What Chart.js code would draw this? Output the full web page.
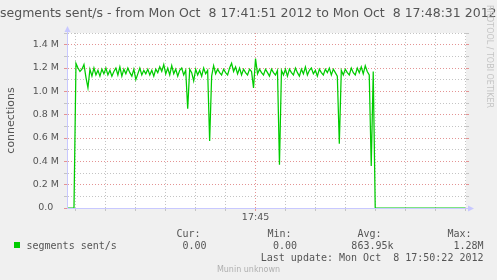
<!DOCTYPE html>
<html>
<head>
<meta charset="utf-8">
<script src="https://cdn.jsdelivr.net/npm/chart.js@4/dist/chart.umd.min.js"></script>
<style>
  html,body{margin:0;padding:0;background:#f0f0f0;}
  #wrap{width:497px;height:280px;}
</style>
</head>
<body>
<div id="wrap"><canvas id="chart" width="497" height="280"></canvas></div>
<script>
/* Munin graph: tcp segments sent/s, 17:41:51 -> 17:48:31 (400 s window) */

const TITLE = 'segments sent/s - from Mon Oct  8 17:41:51 2012 to Mon Oct  8 17:48:31 2012';
const Y_TITLE = 'connections';
const SERIES_NAME = 'segments sent/s';

// RRD samples: one value every STEP seconds, first one SAMPLE_START s after 17:41:51. Values in millions.
const SAMPLE_START = 1, STEP = 2;
const SENT_M = [
  0, 0, 0, 0, 1.24, 1.20, 1.17, 1.19, 1.23, 1.12,
  1.03, 1.19, 1.13, 1.20, 1.14, 1.18, 1.13, 1.19, 1.15, 1.20,
  1.14, 1.18, 1.13, 1.17, 1.20, 1.14, 1.21, 1.13, 1.19, 1.15,
  1.20, 1.16, 1.13, 1.19, 1.10, 1.15, 1.20, 1.14, 1.18, 1.15,
  1.19, 1.14, 1.18, 1.13, 1.19, 1.16, 1.21, 1.17, 1.23, 1.15,
  1.20, 1.14, 1.22, 1.15, 1.19, 1.13, 1.18, 1.20, 1.14, 1.18,
  0.85, 1.19, 1.16, 1.09, 1.19, 1.14, 1.18, 1.13, 1.20, 1.15,
  1.18, 0.575, 1.13, 1.22, 1.15, 1.19, 1.16, 1.14, 1.19, 1.16,
  1.14, 1.20, 1.24, 1.17, 1.21, 1.15, 1.20, 1.14, 1.19, 1.16,
  1.14, 1.19, 1.17, 1.03, 1.28, 1.15, 1.19, 1.16, 1.14, 1.19,
  1.16, 1.13, 1.19, 1.16, 1.14, 1.18, 0.37, 1.18, 1.14, 1.19,
  1.13, 1.19, 1.16, 1.14, 1.20, 1.16, 1.13, 1.19, 1.15, 1.21,
  1.14, 1.18, 1.20, 1.15, 1.18, 1.13, 1.19, 1.16, 1.14, 1.19,
  1.16, 1.20, 1.14, 1.19, 1.16, 1.13, 0.55, 1.18, 1.14, 1.19,
  1.16, 1.14, 1.20, 1.16, 1.14, 1.20, 1.16, 1.21, 1.15, 1.22,
  1.17, 1.14, 0.36, 1.17, 0, 0, 0, 0, 0, 0,
  0, 0, 0, 0, 0, 0, 0, 0, 0, 0,
  0, 0, 0, 0, 0, 0, 0, 0, 0, 0,
  0, 0, 0, 0, 0, 0, 0, 0, 0, 0,
  0, 0, 0, 0, 0, 0, 0, 0, 0, 0,
];

// x grid every 30 s (17:42:00 ... 17:48:30), only 17:45:00 is labelled / major
const X_TICKS = [9, 39, 69, 99, 129, 159, 189, 219, 249, 279, 309, 339, 369, 399];
const X_LABELS = {189:'17:45'};
const X_MAJOR = [189];

const LEGEND_HEAD = ['Cur:', 'Min:', 'Avg:', 'Max:'];
const LEGEND_VALS = ['0.00', '0.00', '863.95k', '1.28M'];
const LAST_UPDATE = 'Last update: Mon Oct  8 17:50:22 2012';
const FOOTER = 'Munin unknown';
const WATERMARK = 'RRDTOOL / TOBI OETIKER';

const LINE_COLOR = '#00cc00', AXIS_COLOR = '#c8c8ff';
const GRID_MINOR = '#c4c4c4', GRID_MAJOR = '#e49494';
const FONT_COLOR = '#555555';

// --- helpers ---------------------------------------------------------------
const tenths = v => Math.round(v*10);
const yGrid = c => { const k = tenths(c.tick.value); return k===0 ? 'rgba(0,0,0,0)' : (k%2===0 ? GRID_MAJOR : GRID_MINOR); };
const yTick = c => tenths(c.tick.value)%2===0 ? GRID_MAJOR : GRID_MINOR;
const xGrid = c => X_MAJOR.includes(c.tick.value) ? GRID_MAJOR : GRID_MINOR;

const points = SENT_M.map((v,i)=>({x: SAMPLE_START + i*STEP, y: v}));

// --- rrdtool-ish decorations: canvas, title, arrows, legend table -----------
const decor = {
  id:'decor',
  beforeDraw(c){
    const {ctx, chartArea:a} = c;
    ctx.save(); ctx.fillStyle = '#ffffff';
    ctx.fillRect(a.left, a.top, a.right-a.left, a.bottom-a.top);
    ctx.restore();
  },
  afterDraw(c){
    const {ctx, chartArea:a} = c;
    ctx.save();
    // axis arrows
    ctx.strokeStyle = AXIS_COLOR; ctx.fillStyle = AXIS_COLOR; ctx.lineWidth = 1;
    ctx.beginPath(); ctx.moveTo(a.left+0.5, a.top); ctx.lineTo(a.left+0.5, a.top-3); ctx.stroke();
    ctx.beginPath(); ctx.moveTo(a.left+0.5, a.top-7); ctx.lineTo(a.left-2.5, a.top-1); ctx.lineTo(a.left+3.5, a.top-1); ctx.fill();
    ctx.beginPath(); ctx.moveTo(a.right, a.bottom+0.5); ctx.lineTo(a.right+3, a.bottom+0.5); ctx.stroke();
    ctx.beginPath(); ctx.moveTo(a.right+8, a.bottom+0.5); ctx.lineTo(a.right+2, a.bottom-2.5); ctx.lineTo(a.right+2, a.bottom+3.5); ctx.fill();

    // title
    ctx.fillStyle = FONT_COLOR; ctx.textBaseline = 'middle';
    ctx.font = '12.5px "DejaVu Sans"'; ctx.textAlign = 'left';
    ctx.fillText(TITLE, 0, 14);

    // vertical watermark
    ctx.save();
    ctx.translate(489, 56.5); ctx.rotate(Math.PI/2);
    ctx.font = '8px "DejaVu Sans"'; ctx.fillStyle = '#c4c4c4'; ctx.textAlign = 'center';
    ctx.fillText(WATERMARK, 0, 0);
    ctx.restore();

    // legend table
    ctx.font = '10px "DejaVu Sans Mono"'; ctx.fillStyle = FONT_COLOR;
    const headX = [176.5, 267.5, 357.5, 447.5], valR = [206.5, 297, 393.5, 483.5];
    ctx.textAlign = 'left';
    LEGEND_HEAD.forEach((h,i)=> ctx.fillText(h, headX[i], 234.5));
    ctx.fillText(SERIES_NAME, 26.5, 246.5);
    ctx.textAlign = 'right';
    LEGEND_VALS.forEach((v,i)=> ctx.fillText(v, valR[i], 246.5));
    ctx.fillText(LAST_UPDATE, 483.5, 258);
    ctx.fillStyle = LINE_COLOR; ctx.fillRect(14, 242, 6, 6);

    ctx.font = '8px "DejaVu Sans"'; ctx.fillStyle = '#b0b0b0'; ctx.textAlign = 'center';
    ctx.fillText(FOOTER, 248.5, 269.5);
    ctx.restore();
  }
};

new Chart(document.getElementById('chart'), {
  type:'line',
  data:{datasets:[{
    label:SERIES_NAME, data:points, borderColor:LINE_COLOR, borderWidth:1.25,
    pointRadius:0, tension:0, fill:false,
  }]},
  options:{
    responsive:false, animation:false, events:[],
    layout:{padding:{top:33, left:0, right:0, bottom:0}},
    plugins:{legend:{display:false}, tooltip:{enabled:false}},
    scales:{
      x:{
        type:'linear', min:0, max:400,
        afterFit(s){ s.height = 72; },
        afterBuildTicks(s){ s.ticks = X_TICKS.map(v=>({value:v})); },
        ticks:{autoSkip:false, maxRotation:0, padding:1, color:FONT_COLOR,
               font:{family:'DejaVu Sans', size:9.5}, callback:v=>X_LABELS[v]||''},
        grid:{color:xGrid, tickColor:xGrid, tickLength:3, tickBorderDash:[]},
        border:{color:AXIS_COLOR, dash:[1,2]},
      },
      y:{
        min:0, max:1.5,
        afterFit(s){ s.width = 67; },
        ticks:{stepSize:0.1, autoSkip:false, crossAlign:'center', padding:5, color:FONT_COLOR,
               font:{family:'DejaVu Sans', size:9.5},
               callback:v=>{ const k=tenths(v); if(k===0) return '0.0'; return k%2===0 ? (k/10).toFixed(1)+' M' : ''; }},
        grid:{color:yGrid, tickColor:yTick, tickLength:3, tickBorderDash:[]},
        border:{color:AXIS_COLOR, dash:[1,2]},
        title:{display:true, text:Y_TITLE, color:FONT_COLOR, padding:{top:4.4, bottom:0},
               font:{family:'DejaVu Sans', size:11}},
      },
      y2:{
        position:'right', min:0, max:1.5,
        afterFit(s){ s.width = 31; },
        ticks:{display:false, stepSize:0.1, autoSkip:false},
        grid:{drawOnChartArea:false, tickColor:yTick, tickLength:3},
        border:{display:false},
      },
    },
  },
  plugins:[decor],
});
</script>
</body>
</html>
